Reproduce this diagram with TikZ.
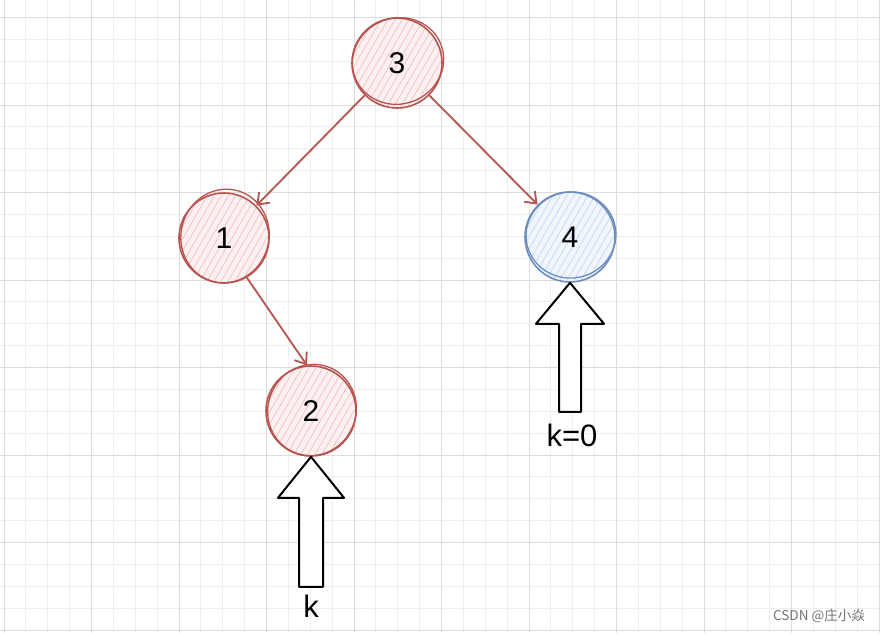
\documentclass[tikz,border=0pt]{standalone}
\usepackage{fontspec}
\setmainfont{Liberation Sans}
\newfontfamily\cjk{Noto Sans CJK SC}
\usetikzlibrary{arrows.meta}
\definecolor{rdraw}{HTML}{B85450}
\definecolor{rfill}{HTML}{F5C4C2}
\definecolor{bdraw}{HTML}{6C8EBF}
\definecolor{bfill}{HTML}{C9DAF5}
\definecolor{gmajor}{HTML}{DCDCDC}
\definecolor{gminor}{HTML}{EEEEEE}
\tikzset{
  hatch/.style={path picture={
    \fill[#1!25] (path picture bounding box.south west) rectangle (path picture bounding box.north east);
    \foreach \k in {-90,-83,...,90}
      \draw[#1, line width=0.8pt] ([shift={({\k-30},52)}]path picture bounding box.center) -- ++(60,-104);}},
  circ/.style={circle, minimum size=90pt, inner sep=0pt, line width=1.6pt,
    font=\fontsize{30}{30}\selectfont},
  rednode/.style={circ, draw=rdraw, hatch=rfill},
  bluenode/.style={circ, draw=bdraw, hatch=bfill},
  sketch/.style={line width=1.3pt},
  edge/.style={draw=rdraw, line width=1.8pt, -{Straight Barb[length=10pt,width=15pt,line width=1.8pt]}},
  blockarrow/.style={draw=black, fill=white, line width=2pt, line join=round},
  klabel/.style={font=\fontsize{31}{31}\selectfont, inner sep=0pt},
  wmark/.style={font=\cjk\fontsize{13.5}{14}\selectfont, text=black!55, inner sep=0pt}
}
\begin{document}
\begin{tikzpicture}[x=1pt,y=-1pt]
\fill[white] (0,0) rectangle (880,633);
\useasboundingbox (0,0) rectangle (880,633);
\begin{scope}
\clip (0,0) rectangle (880,633);
\foreach \i in {0,...,40} {
  \draw[gminor, line width=0.8pt] ({4+21.875*\i},0) -- ({4+21.875*\i},633);
}
\foreach \i in {-1,...,29} {
  \draw[gminor, line width=0.8pt] (0,{17.5+21.875*\i}) -- (880,{17.5+21.875*\i});
}
\foreach \i in {0,...,10} {
  \draw[gmajor, line width=0.8pt] ({4+87.5*\i},0) -- ({4+87.5*\i},633);
}
\foreach \i in {0,...,7} {
  \draw[gmajor, line width=0.8pt] (0,{17.5+87.5*\i}) -- (880,{17.5+87.5*\i});
}
\end{scope}

\node[rednode] (n3) at (397,63) {3};
\node[rednode] (n1) at (224,238) {1};
\node[bluenode] (n4) at (570,237) {4};
\node[rednode] (n2) at (311,411) {2};

% sketchy second strokes
\draw[rdraw, sketch, rotate around={20:(398,61)}] (398,61) ellipse [x radius=46, y radius=43];
\draw[rdraw, sketch, rotate around={-15:(225,236)}] (225,236) ellipse [x radius=44, y radius=47];
\draw[bdraw, sketch, rotate around={10:(571,235)}] (571,235) ellipse [x radius=45, y radius=43];
\draw[rdraw, sketch, rotate around={-25:(312,410)}] (312,410) ellipse [x radius=44, y radius=46];

\draw[edge] (n3.-135) -- (n1.45);
\draw[edge] (n3.-45) -- (n4.135);
\draw[edge] (n1.-60) -- (n2.95);

\draw[blockarrow] (n4.south) -- ++(34,41) -- ++(-23,0) -- ++(0,88) -- ++(-22,0) -- ++(0,-88) -- ++(-23,0) -- cycle;
\draw[blockarrow] (n2.south) -- ++(33,41) -- ++(-21,0) -- ++(0,89) -- ++(-24,0) -- ++(0,-89) -- ++(-21,0) -- cycle;

\node[klabel] (k0) at (572,435) {k=0};
\node[klabel] (k) at (311,606) {k};

\node[wmark, anchor=east] (wm) at (865,616) {CSDN @庄小焱};
\end{tikzpicture}
\end{document}
